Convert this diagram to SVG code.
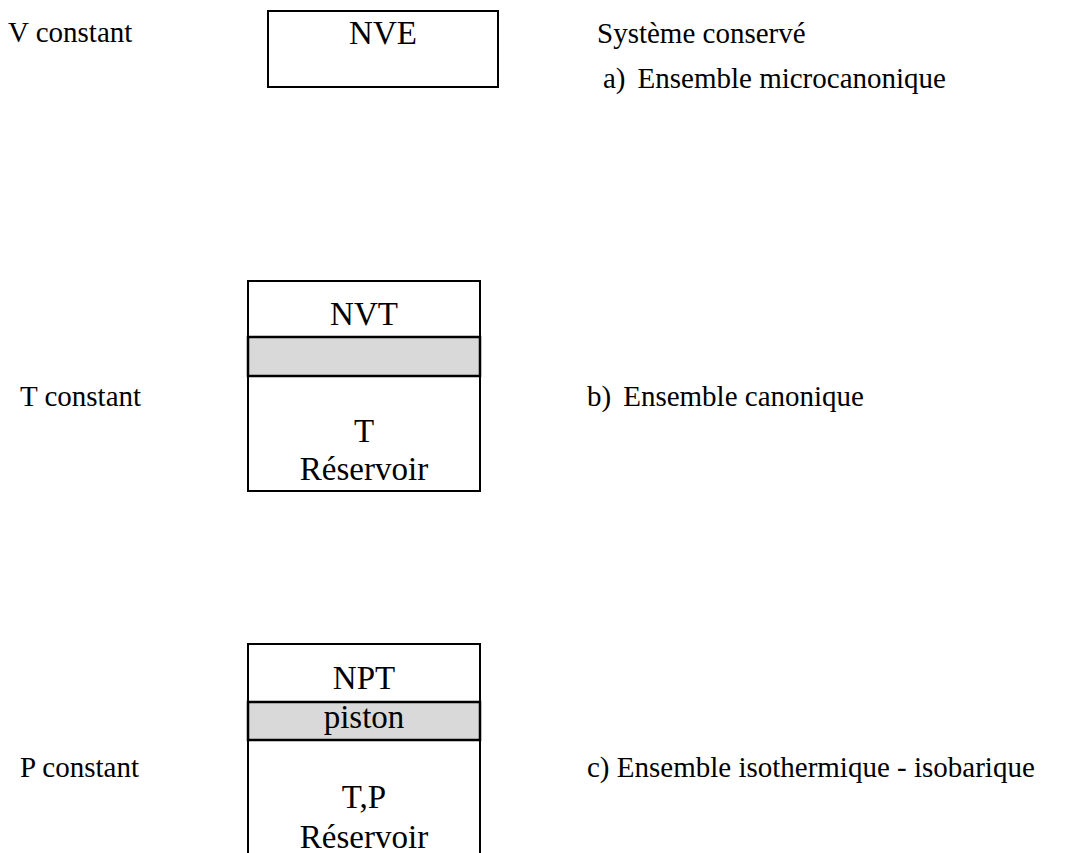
<svg xmlns="http://www.w3.org/2000/svg" width="1065" height="853" viewBox="0 0 1065 853">
<style>
text{font-family:"Liberation Serif","Times New Roman",Times,serif;fill:#000}
.lbl{font-size:29px}
.bx{font-size:33px;text-anchor:middle}
.frame{fill:#fff;stroke:#000;stroke-width:2}
.band{fill:#d9d9d9;stroke:#000;stroke-width:2.5}
</style>
<rect width="1065" height="853" fill="#fff"/>
<g id="labels">
<text class="lbl" x="8" y="42">V constant</text>
<text class="lbl" x="597" y="43">Système conservé</text>
<text class="lbl" x="603" y="88">a)<tspan dx="12">Ensemble microcanonique</tspan></text>
<text class="lbl" x="20" y="406">T constant</text>
<text class="lbl" x="587" y="406">b)<tspan dx="12">Ensemble canonique</tspan></text>
<text class="lbl" x="20" y="777">P constant</text>
<text class="lbl" x="587" y="777">c) Ensemble isothermique - isobarique</text>
</g>
<g id="nve">
<rect class="frame" x="268" y="11" width="230" height="76"/>
<text class="bx" x="383" y="44">NVE</text>
</g>
<g id="nvt">
<rect class="frame" x="248" y="281" width="232" height="210"/>
<rect class="band" x="248" y="337" width="232" height="39"/>
<text class="bx" x="364" y="325">NVT</text>
<text class="bx" x="364" y="442">T</text>
<text class="bx" x="364" y="480">Réservoir</text>
</g>
<g id="npt">
<rect class="frame" x="248" y="644" width="232" height="220"/>
<rect class="band" x="248" y="702" width="232" height="38"/>
<text class="bx" x="364" y="689">NPT</text>
<text class="bx" x="364" y="728">piston</text>
<text class="bx" x="364" y="808">T,P</text>
<text class="bx" x="364" y="848">Réservoir</text>
</g>
<g id="connectors"></g>
</svg>
